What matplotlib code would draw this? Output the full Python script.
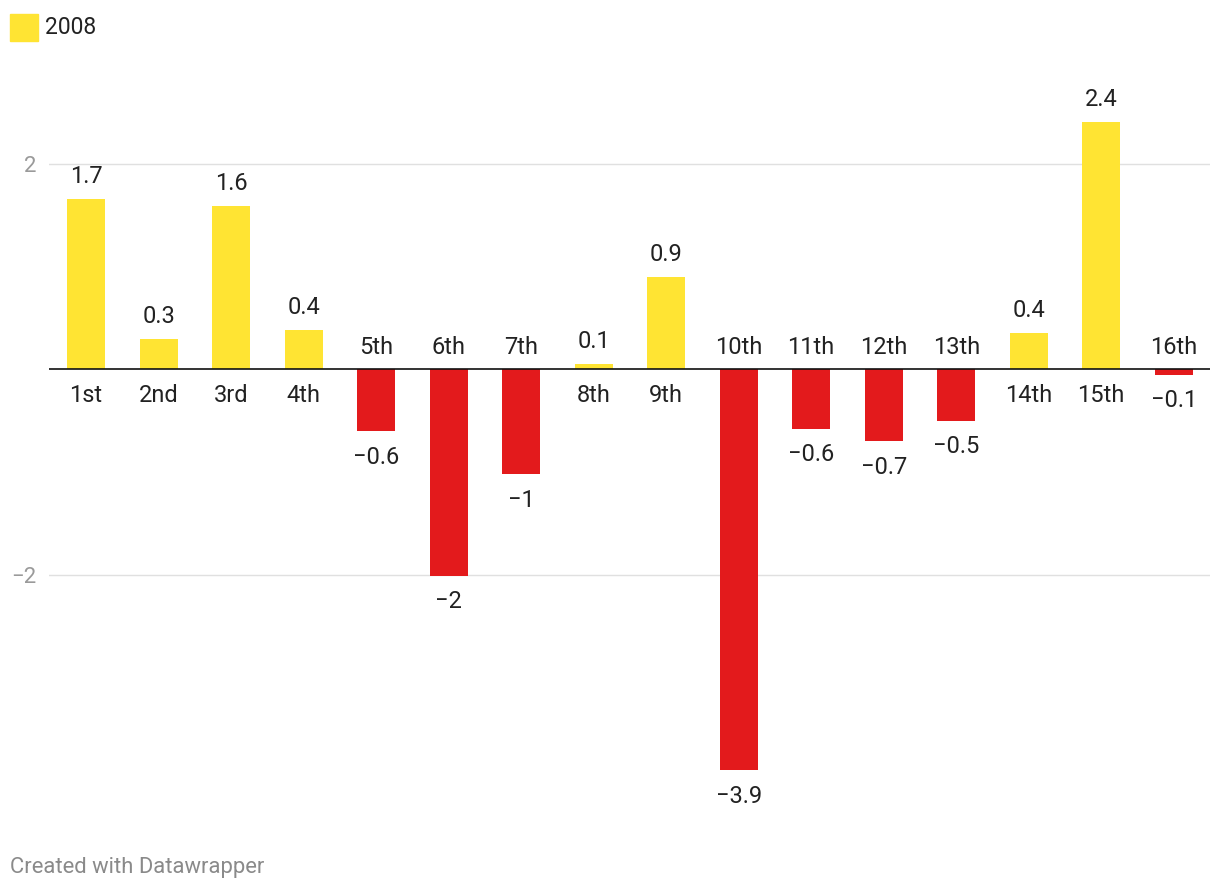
import matplotlib
matplotlib.use("Agg")
import matplotlib.pyplot as plt
import matplotlib.patches as mpatches
import numpy as np

plt.rcParams['font.family'] = ['Roboto', 'DejaVu Sans']

# data
categories = ["1st", "2nd", "3rd", "4th", "5th", "6th", "7th", "8th",
              "9th", "10th", "11th", "12th", "13th", "14th", "15th", "16th"]
values = [1.66, 0.30, 1.59, 0.38, -0.60, -2.01, -1.02, 0.05,
          0.90, -3.90, -0.58, -0.70, -0.50, 0.36, 2.41, -0.05]
series_name = "2008"
yticks = [-2, 2]

yellow = "#FFE433"
red = "#E31A1C"
text_col = "#222222"


def fmt(v):
    s = "{:.1f}".format(v).rstrip("0").rstrip(".")
    return s.replace("-", "\u2212")


fig = plt.figure(figsize=(12.2, 8.94), dpi=100)
W, H = 1220, 894
ax = fig.add_axes([49 / W, 1 - 800 / H, (1210 - 49) / W, 700 / H])

x = np.arange(len(values))
cols = [yellow if v >= 0 else red for v in values]
ax.bar(x, values, width=0.524, color=cols, zorder=2)

ax.set_xlim(-0.51, 15.5)
ax.set_ylim(-4.19, 2.623)

for t in yticks:
    ax.axhline(t, color="#e0e0e0", lw=1.0, zorder=1)
ax.axhline(0, color="#111111", lw=1.2, zorder=3)

ax.set_yticks(yticks)
ax.set_yticklabels([fmt(t) for t in yticks], color="#9a9a9a", fontsize=16)
ax.tick_params(axis="y", length=0, pad=9)
ax.set_xticks([])
for s in ax.spines.values():
    s.set_visible(False)

fs = 17
for xi, v, c in zip(x, values, categories):
    if v >= 0:
        ax.annotate(fmt(v), (xi, v), xytext=(0, 11.5), textcoords="offset points",
                    ha="center", va="baseline", fontsize=fs, color=text_col)
        ax.annotate(c, (xi, 0), xytext=(0, -23.3), textcoords="offset points",
                    ha="center", va="baseline", fontsize=fs, color=text_col)
    else:
        ax.annotate(fmt(v), (xi, v), xytext=(0, -23.3), textcoords="offset points",
                    ha="center", va="baseline", fontsize=fs, color=text_col)
        ax.annotate(c, (xi, 0), xytext=(0, 11.2), textcoords="offset points",
                    ha="center", va="baseline", fontsize=fs, color=text_col)

# legend
fig.patches.append(mpatches.Rectangle((10 / W, 1 - 41 / H), 28 / W, 27 / H,
                                      transform=fig.transFigure, color=yellow))
fig.text(45 / W, 1 - 27 / H, series_name, ha="left", va="center",
         fontsize=16.5, color=text_col)

fig.text(10 / W, 1 - 868 / H, "Created with Datawrapper", ha="left", va="center",
         fontsize=15.8, color="#8a8a8a")

fig.savefig("out.png", dpi=100)
